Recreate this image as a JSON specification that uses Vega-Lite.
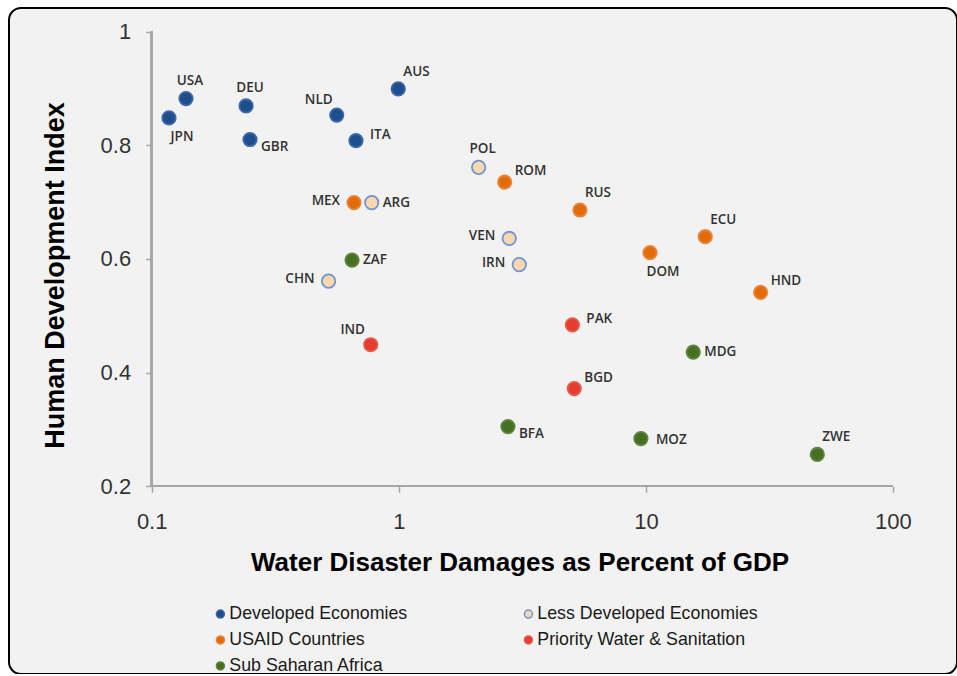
{
  "$schema": "https://vega.github.io/schema/vega-lite/v6.json",
  "width": 948,
  "height": 666,
  "autosize": "none",
  "padding": {"left": 9, "top": 8, "right": 0, "bottom": 0},
  "background": "#ffffff",
  "config": {
    "view": {"fill": "#F2F2F2", "stroke": "#000000", "strokeWidth": 2, "cornerRadius": 12},
    "axis": {"grid": false, "domain": false, "labelOverlap": false, "labelBound": false, "labelFlush": false},
    "legend": {"padding": 0}
  },
  "data": {
    "values": [
      {"code": "JPN", "damage": 0.1175, "hdi": 0.848, "group": "Developed Economies"},
      {"code": "USA", "damage": 0.1377, "hdi": 0.882, "group": "Developed Economies"},
      {"code": "DEU", "damage": 0.241, "hdi": 0.869, "group": "Developed Economies"},
      {"code": "GBR", "damage": 0.25, "hdi": 0.81, "group": "Developed Economies"},
      {"code": "NLD", "damage": 0.561, "hdi": 0.853, "group": "Developed Economies"},
      {"code": "ITA", "damage": 0.671, "hdi": 0.808, "group": "Developed Economies"},
      {"code": "AUS", "damage": 0.995, "hdi": 0.899, "group": "Developed Economies"},
      {"code": "POL", "damage": 2.105, "hdi": 0.761, "group": "Less Developed Economies"},
      {"code": "ARG", "damage": 0.777, "hdi": 0.699, "group": "Less Developed Economies"},
      {"code": "VEN", "damage": 2.8, "hdi": 0.636, "group": "Less Developed Economies"},
      {"code": "IRN", "damage": 3.075, "hdi": 0.59, "group": "Less Developed Economies"},
      {"code": "CHN", "damage": 0.52, "hdi": 0.561, "group": "Less Developed Economies"},
      {"code": "MEX", "damage": 0.659, "hdi": 0.699, "group": "USAID Countries"},
      {"code": "ROM", "damage": 2.683, "hdi": 0.735, "group": "USAID Countries"},
      {"code": "RUS", "damage": 5.41, "hdi": 0.686, "group": "USAID Countries"},
      {"code": "DOM", "damage": 10.39, "hdi": 0.611, "group": "USAID Countries"},
      {"code": "ECU", "damage": 17.39, "hdi": 0.639, "group": "USAID Countries"},
      {"code": "HND", "damage": 29.14, "hdi": 0.541, "group": "USAID Countries"},
      {"code": "IND", "damage": 0.77, "hdi": 0.449, "group": "Priority Water & Sanitation"},
      {"code": "PAK", "damage": 5.04, "hdi": 0.484, "group": "Priority Water & Sanitation"},
      {"code": "BGD", "damage": 5.13, "hdi": 0.372, "group": "Priority Water & Sanitation"},
      {"code": "ZAF", "damage": 0.647, "hdi": 0.598, "group": "Sub Saharan Africa"},
      {"code": "MDG", "damage": 15.55, "hdi": 0.436, "group": "Sub Saharan Africa"},
      {"code": "BFA", "damage": 2.766, "hdi": 0.305, "group": "Sub Saharan Africa"},
      {"code": "MOZ", "damage": 9.55, "hdi": 0.284, "group": "Sub Saharan Africa"},
      {"code": "ZWE", "damage": 49.4, "hdi": 0.256, "group": "Sub Saharan Africa"}
    ]
  },
  "encoding": {
    "x": {
      "field": "damage",
      "type": "quantitative",
      "scale": {"type": "log", "domain": [0.02646, 181.6], "nice": false, "zero": false},
      "axis": {
        "values": [0.1, 1, 10, 100],
        "format": "~g",
        "offset": -187.7,
        "tickSize": 6,
        "tickColor": "#A6A6A6",
        "tickWidth": 1.5,
        "labelFont": "Liberation Sans",
        "labelFontSize": 22,
        "labelColor": "#333333",
        "labelPadding": 19,
        "title": "Water Disaster Damages as Percent of GDP",
        "titleFont": "Liberation Sans",
        "titleFontSize": 26,
        "titleFontWeight": "bold",
        "titleColor": "#000000",
        "titleX": 510.5,
        "titleY": 84,
        "titleAlign": "center",
        "titleBaseline": "alphabetic"
      }
    },
    "y": {
      "field": "hdi",
      "type": "quantitative",
      "scale": {"domain": [-0.13017, 1.04134], "nice": false, "zero": false},
      "axis": {
        "values": [0.2, 0.4, 0.6, 0.8, 1],
        "format": "~g",
        "offset": -142.7,
        "tickSize": 6,
        "tickColor": "#A6A6A6",
        "tickWidth": 1.5,
        "labelFont": "Liberation Sans",
        "labelFontSize": 22,
        "labelColor": "#333333",
        "labelPadding": 15,
        "title": "Human Development Index",
        "titleFont": "Liberation Sans",
        "titleFontSize": 27,
        "titleFontWeight": "bold",
        "titleColor": "#000000",
        "titleX": -88,
        "titleY": 267,
        "titleAngle": -90,
        "titleAlign": "center",
        "titleBaseline": "alphabetic"
      }
    }
  },
  "layer": [
    {
      "mark": {"type": "rule", "color": "#A6A6A6", "strokeWidth": 1.5},
      "encoding": {
        "x": {"datum": 0.1, "type": "quantitative"},
        "x2": {"datum": 100},
        "y": {"datum": 0.2, "type": "quantitative"}
      }
    },
    {
      "mark": {"type": "rule", "color": "#A6A6A6", "strokeWidth": 1.5},
      "encoding": {
        "x": {"datum": 0.1, "type": "quantitative"},
        "y": {"datum": 0.2, "type": "quantitative"},
        "y2": {"datum": 1}
      }
    },
    {
      "mark": {"type": "circle", "size": 180, "opacity": 1, "strokeWidth": 1.8},
      "encoding": {
        "fill": {
          "field": "group",
          "type": "nominal",
          "scale": {
            "domain": ["Developed Economies", "USAID Countries", "Sub Saharan Africa", "Less Developed Economies", "Priority Water & Sanitation"],
            "range": ["#1F4E8F", "#E36C0A", "#466F22", "#FBD7B0", "#E53D2D"]
          },
          "legend": {
            "title": null,
            "orient": "none",
            "legendX": 202.5,
            "legendY": 597,
            "columns": 2,
            "columnPadding": 112,
            "rowPadding": 7,
            "symbolSize": 64,
            "symbolStrokeWidth": 1.5,
            "labelOffset": 0,
            "labelFont": "Liberation Sans",
            "labelFontSize": 17.8,
            "labelColor": "#1A1A1A",
            "labelLimit": 400
          }
        },
        "stroke": {
          "field": "group",
          "type": "nominal",
          "scale": {
            "domain": ["Developed Economies", "USAID Countries", "Sub Saharan Africa", "Less Developed Economies", "Priority Water & Sanitation"],
            "range": ["#3D68A8", "#E9853A", "#5E8540", "#6E93D6", "#EA5A4B"]
          },
          "legend": {
            "title": null,
            "orient": "none",
            "legendX": 202.5,
            "legendY": 597,
            "columns": 2,
            "columnPadding": 112,
            "rowPadding": 7,
            "symbolSize": 64,
            "symbolStrokeWidth": 1.5,
            "labelOffset": 0,
            "labelFont": "Liberation Sans",
            "labelFontSize": 17.8,
            "labelColor": "#1A1A1A",
            "labelLimit": 400
          }
        }
      }
    },
    {
      "transform": [{"filter": {"field": "code", "oneOf": ["ARG", "ZAF", "MDG"]}}],
      "mark": {"type": "text", "align": "left", "baseline": "middle", "dx": 11, "dy": 0, "font": "Open Sans", "fontSize": 13.5, "fontWeight": 600, "color": "#333333"},
      "encoding": {"text": {"field": "code"}}
    },
    {
      "transform": [{"filter": {"field": "code", "oneOf": ["MOZ"]}}],
      "mark": {"type": "text", "align": "left", "baseline": "middle", "dx": 15, "dy": 1, "font": "Open Sans", "fontSize": 13.5, "fontWeight": 600, "color": "#333333"},
      "encoding": {"text": {"field": "code"}}
    },
    {
      "transform": [{"filter": {"field": "code", "oneOf": ["GBR", "BFA"]}}],
      "mark": {"type": "text", "align": "left", "baseline": "middle", "dx": 11, "dy": 7, "font": "Open Sans", "fontSize": 13.5, "fontWeight": 600, "color": "#333333"},
      "encoding": {"text": {"field": "code"}}
    },
    {
      "transform": [{"filter": {"field": "code", "oneOf": ["ITA", "PAK"]}}],
      "mark": {"type": "text", "align": "left", "baseline": "middle", "dx": 14, "dy": -6, "font": "Open Sans", "fontSize": 13.5, "fontWeight": 600, "color": "#333333"},
      "encoding": {"text": {"field": "code"}}
    },
    {
      "transform": [{"filter": {"field": "code", "oneOf": ["BGD", "ROM", "HND"]}}],
      "mark": {"type": "text", "align": "left", "baseline": "middle", "dx": 10, "dy": -11, "font": "Open Sans", "fontSize": 13.5, "fontWeight": 600, "color": "#333333"},
      "encoding": {"text": {"field": "code"}}
    },
    {
      "transform": [{"filter": {"field": "code", "oneOf": ["RUS", "ECU", "AUS", "ZWE"]}}],
      "mark": {"type": "text", "align": "left", "baseline": "middle", "dx": 5, "dy": -17, "font": "Open Sans", "fontSize": 13.5, "fontWeight": 600, "color": "#333333"},
      "encoding": {"text": {"field": "code"}}
    },
    {
      "transform": [{"filter": {"field": "code", "oneOf": ["MEX", "VEN", "IRN", "CHN"]}}],
      "mark": {"type": "text", "align": "right", "baseline": "middle", "dx": -14, "dy": -2, "font": "Open Sans", "fontSize": 13.5, "fontWeight": 600, "color": "#333333"},
      "encoding": {"text": {"field": "code"}}
    },
    {
      "transform": [{"filter": {"field": "code", "oneOf": ["USA", "DEU", "POL"]}}],
      "mark": {"type": "text", "align": "center", "baseline": "middle", "dx": 4, "dy": -18, "font": "Open Sans", "fontSize": 13.5, "fontWeight": 600, "color": "#333333"},
      "encoding": {"text": {"field": "code"}}
    },
    {
      "transform": [{"filter": {"field": "code", "oneOf": ["NLD", "IND"]}}],
      "mark": {"type": "text", "align": "center", "baseline": "middle", "dx": -18, "dy": -15, "font": "Open Sans", "fontSize": 13.5, "fontWeight": 600, "color": "#333333"},
      "encoding": {"text": {"field": "code"}}
    },
    {
      "transform": [{"filter": {"field": "code", "oneOf": ["JPN", "DOM"]}}],
      "mark": {"type": "text", "align": "center", "baseline": "middle", "dx": 13, "dy": 19, "font": "Open Sans", "fontSize": 13.5, "fontWeight": 600, "color": "#333333"},
      "encoding": {"text": {"field": "code"}}
    }
  ]
}
